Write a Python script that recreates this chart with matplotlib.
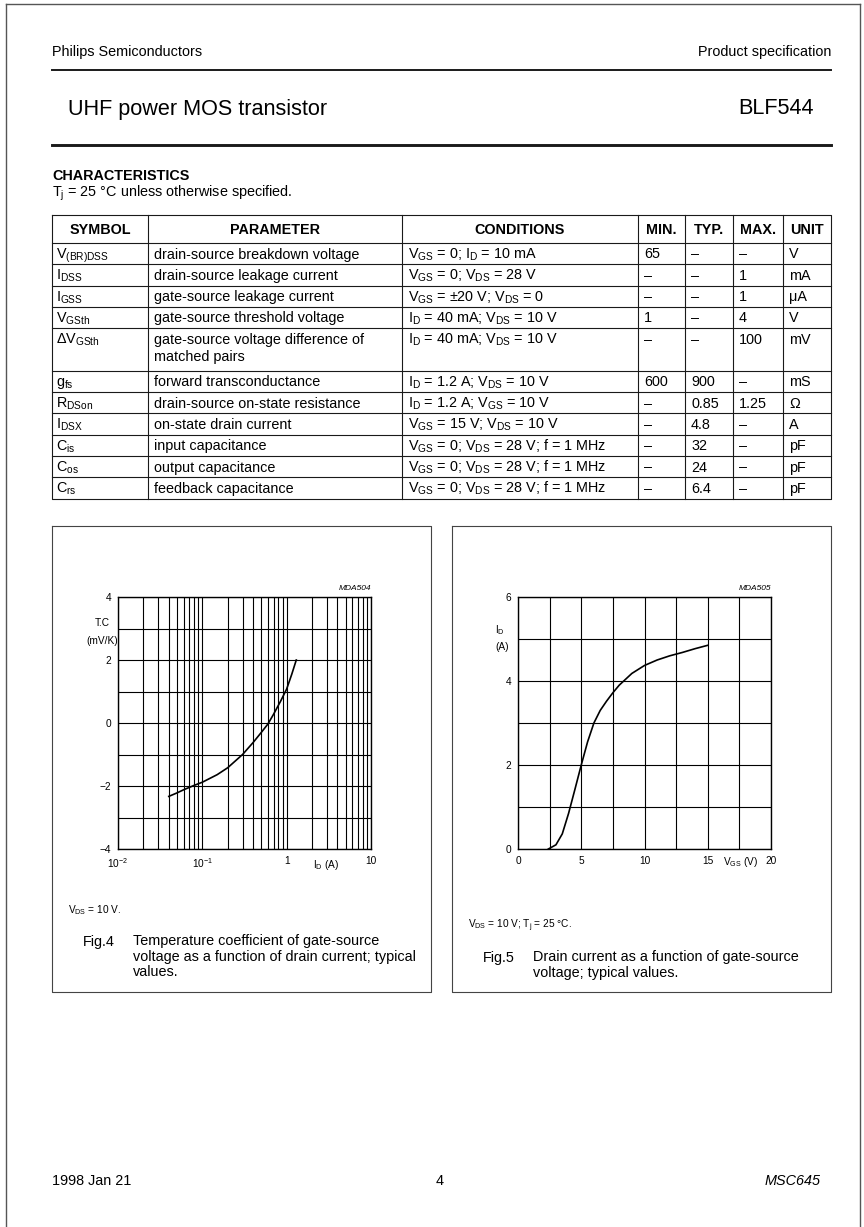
import numpy as np
import matplotlib.pyplot as plt
from matplotlib.ticker import LogLocator, FixedLocator, NullFormatter, MultipleLocator

plt.rcParams['font.family'] = ['Liberation Sans', 'DejaVu Sans']
plt.rcParams['mathtext.fontset'] = 'custom'
plt.rcParams['mathtext.rm'] = 'Liberation Sans'
plt.rcParams['mathtext.it'] = 'Liberation Sans:italic'
plt.rcParams['mathtext.bf'] = 'Liberation Sans:bold'


def sub(s):
    return r'$_{\mathrm{' + s + '}}$'


# --- table data ---
symbols = ['V' + sub('(BR)DSS'), 'I' + sub('DSS'), 'I' + sub('GSS'), 'V' + sub('GSth'),
           '\u0394V' + sub('GSth'), 'g' + sub('fs'), 'R' + sub('DSon'), 'I' + sub('DSX'),
           'C' + sub('is'), 'C' + sub('os'), 'C' + sub('rs')]
parameters = ['drain-source breakdown voltage', 'drain-source leakage current',
              'gate-source leakage current', 'gate-source threshold voltage',
              'gate-source voltage difference of\nmatched pairs', 'forward transconductance',
              'drain-source on-state resistance', 'on-state drain current',
              'input capacitance', 'output capacitance', 'feedback capacitance']
conditions = ['V' + sub('GS') + ' = 0; I' + sub('D') + ' = 10 mA',
              'V' + sub('GS') + ' = 0; V' + sub('DS') + ' = 28 V',
              'V' + sub('GS') + ' = \u00b120 V; V' + sub('DS') + ' = 0',
              'I' + sub('D') + ' = 40 mA; V' + sub('DS') + ' = 10 V',
              'I' + sub('D') + ' = 40 mA; V' + sub('DS') + ' = 10 V',
              'I' + sub('D') + ' = 1.2 A; V' + sub('DS') + ' = 10 V',
              'I' + sub('D') + ' = 1.2 A; V' + sub('GS') + ' = 10 V',
              'V' + sub('GS') + ' = 15 V; V' + sub('DS') + ' = 10 V',
              'V' + sub('GS') + ' = 0; V' + sub('DS') + ' = 28 V; f = 1 MHz',
              'V' + sub('GS') + ' = 0; V' + sub('DS') + ' = 28 V; f = 1 MHz',
              'V' + sub('GS') + ' = 0; V' + sub('DS') + ' = 28 V; f = 1 MHz']
D = '\u2013'
min_vals = ['65', D, D, '1', D, '600', D, D, D, D, D]
typ_vals = [D, D, D, D, D, '900', '0.85', '4.8', '32', '24', '6.4']
max_vals = [D, '1', '1', '4', '100', D, '1.25', D, D, D, D]
units = ['V', 'mA', '\u03bcA', 'V', 'mV', 'mS', '\u03a9', 'A', 'pF', 'pF', 'pF']
headers = ['SYMBOL', 'PARAMETER', 'CONDITIONS', 'MIN.', 'TYP.', 'MAX.', 'UNIT']

# --- Fig.4: temperature coefficient vs drain current ---
id_fig4 = [0.04, 0.05, 0.06, 0.08, 0.1, 0.15, 0.2, 0.3, 0.4, 0.5, 0.6, 0.7, 0.85, 1.0, 1.15, 1.3]
tc_fig4 = [-2.33, -2.22, -2.12, -1.98, -1.88, -1.64, -1.42, -1.0, -0.62, -0.3, -0.03, 0.28, 0.7, 1.08, 1.55, 2.0]

# --- Fig.5: drain current vs gate-source voltage ---
vgs_fig5 = [2.4, 3.0, 3.5, 4.0, 4.5, 5.0, 5.5, 6.0, 6.5, 7.0, 7.5, 8.0, 9.0, 10, 11, 12, 13, 14, 15]
id_fig5 = [0.0, 0.1, 0.36, 0.85, 1.42, 2.0, 2.55, 3.0, 3.3, 3.52, 3.72, 3.9, 4.18, 4.37, 4.5, 4.6, 4.68, 4.77, 4.85]

W, H = 864, 1227
fig = plt.figure(figsize=(W / 100, H / 100), dpi=100)
page = fig.add_axes([0, 0, 1, 1])
page.set_xlim(0, W)
page.set_ylim(H, 0)
page.axis('off')

L, R = 52, 831
FS = 10.4
lc = '#1a1a1a'

# page frame
page.plot([6, 6], [H, 4], color='#555555', lw=1)
page.plot([6, 860], [4, 4], color='#555555', lw=1)
page.plot([860, 860], [4, H], color='#555555', lw=1)

# header
page.text(L, 52, 'Philips Semiconductors', fontsize=FS, va='center')
page.text(R, 52, 'Product specification', fontsize=FS, va='center', ha='right')
page.plot([L, R], [70, 70], color=lc, lw=1.4)
page.text(L + 16, 109, 'UHF power MOS transistor', fontsize=15.6, va='center')
page.text(R - 17, 109, 'BLF544', fontsize=15.6, va='center', ha='right')
page.plot([L, R], [145, 145], color=lc, lw=2.1)

page.text(L, 176, 'CHARACTERISTICS', fontsize=FS, weight='bold', va='center')
page.text(L, 193, 'T' + sub('j') + ' = 25 \u00b0C unless otherwise specified.', fontsize=FS, va='center')

# table
cols = [L, 148, 402, 638, 685, 733, 783, R]
top, hdr_bot, pitch = 215, 243, 21.3
row_h = [2 if '\n' in p else 1 for p in parameters]
edges = [hdr_bot]
for n in row_h:
    edges.append(edges[-1] + n * pitch)
bottom = edges[-1]
tlw = 0.8
page.plot([L, R, R, L, L], [top, top, bottom, bottom, top], color=lc, lw=tlw)
for y in edges[:-1]:
    page.plot([L, R], [y, y], color=lc, lw=tlw)
for x in cols[1:-1]:
    page.plot([x, x], [top, bottom], color=lc, lw=tlw)
for i, h in enumerate(headers):
    page.text((cols[i] + cols[i + 1]) / 2, (top + hdr_bot) / 2 + 5.2, h, fontsize=FS,
              weight='bold', ha='center', va='baseline')
for r in range(len(symbols)):
    base = edges[r] + 15.5
    cells = [symbols[r], parameters[r], conditions[r], min_vals[r], typ_vals[r], max_vals[r], units[r]]
    for c, txt in enumerate(cells):
        pad = 3.5 if c == 0 else 6
        for k, ln in enumerate(txt.split('\n')):
            page.text(cols[c] + pad, base + k * 17.5, ln, fontsize=FS, va='baseline')

# figure boxes
box_top, box_bot = 526, 992
for bx in [(52, 431), (452, 831)]:
    page.plot([bx[0], bx[1], bx[1], bx[0], bx[0]], [box_top, box_top, box_bot, box_bot, box_top],
              color='#444444', lw=0.8)


def axes_at(x0, x1, y0, y1):
    return fig.add_axes([x0 / W, 1 - y1 / H, (x1 - x0) / W, (y1 - y0) / H])


TFS = 7.3
# Fig.4
ax1 = axes_at(118, 371, 597, 849)
ax1.set_xscale('log')
ax1.set_xlim(0.01, 10)
ax1.set_ylim(-4, 4)
ax1.xaxis.set_major_locator(FixedLocator([0.01, 0.1, 1, 10]))
ax1.xaxis.set_minor_locator(LogLocator(base=10, subs=np.arange(2, 10)))
ax1.xaxis.set_minor_formatter(NullFormatter())
ax1.set_xticklabels([r'$10^{-2}$', r'$10^{-1}$', '1', '10'], fontsize=TFS)
ax1.yaxis.set_major_locator(FixedLocator([-4, -2, 0, 2, 4]))
ax1.yaxis.set_minor_locator(MultipleLocator(1))
ax1.set_yticklabels(['\u22124', '\u22122', '0', '2', '4'], fontsize=TFS)
ax1.grid(True, which='both', color='black', lw=0.8)
ax1.tick_params(which='both', length=0, pad=5)
ax1.plot(id_fig4, tc_fig4, color='black', lw=1.2)
ax1.text(2.9, -0.035, 'I' + sub('D') + ' (A)', fontsize=TFS, transform=ax1.get_xaxis_transform(),
         ha='center', va='top')
page.text(102, 623, 'T.C', fontsize=TFS, ha='center', va='center')
page.text(102, 641, '(mV/K)', fontsize=TFS, ha='center', va='center')
page.text(371, 589, 'MDA504', fontsize=6, style='italic', ha='right', va='center')

# Fig.5
ax2 = axes_at(518, 771, 597, 849)
ax2.set_xlim(0, 20)
ax2.set_ylim(0, 6)
ax2.xaxis.set_major_locator(FixedLocator([0, 5, 10, 15, 20]))
ax2.xaxis.set_minor_locator(MultipleLocator(2.5))
ax2.yaxis.set_major_locator(FixedLocator([0, 2, 4, 6]))
ax2.yaxis.set_minor_locator(MultipleLocator(1))
ax2.tick_params(which='both', length=0, pad=5, labelsize=TFS)
ax2.grid(True, which='both', color='black', lw=0.8)
ax2.plot(vgs_fig5, id_fig5, color='black', lw=1.2)
ax2.text(17.6, -0.025, 'V' + sub('GS') + ' (V)', fontsize=TFS, transform=ax2.get_xaxis_transform(),
         ha='center', va='top')
page.text(500, 630, 'I' + sub('D'), fontsize=TFS, ha='center', va='center')
page.text(502, 647, '(A)', fontsize=TFS, ha='center', va='center')
page.text(771, 589, 'MDA505', fontsize=6, style='italic', ha='right', va='center')

for ax in (ax1, ax2):
    for s in ax.spines.values():
        s.set_linewidth(1.0)

# conditions and captions
page.text(68, 910, 'V' + sub('DS') + ' = 10 V.', fontsize=TFS, va='center')
page.text(83, 942, 'Fig.4', fontsize=FS, va='center')
page.text(133, 934, 'Temperature coefficient of gate-source\n'
          'voltage as a function of drain current; typical\nvalues.',
          fontsize=FS, va='top', linespacing=1.15)

page.text(468, 926, 'V' + sub('DS') + ' = 10 V; T' + sub('j') + ' = 25 \u00b0C.', fontsize=TFS, va='center')
page.text(483, 958, 'Fig.5', fontsize=FS, va='center')
page.text(533, 950, 'Drain current as a function of gate-source\nvoltage; typical values.',
          fontsize=FS, va='top', linespacing=1.15)

# footer
page.text(L, 1181, '1998 Jan 21', fontsize=FS, va='center')
page.text(440, 1181, '4', fontsize=FS, va='center', ha='center')
page.text(821, 1181, 'MSC645', fontsize=FS, va='center', ha='right', style='italic')

fig.savefig('out.png', dpi=100)
